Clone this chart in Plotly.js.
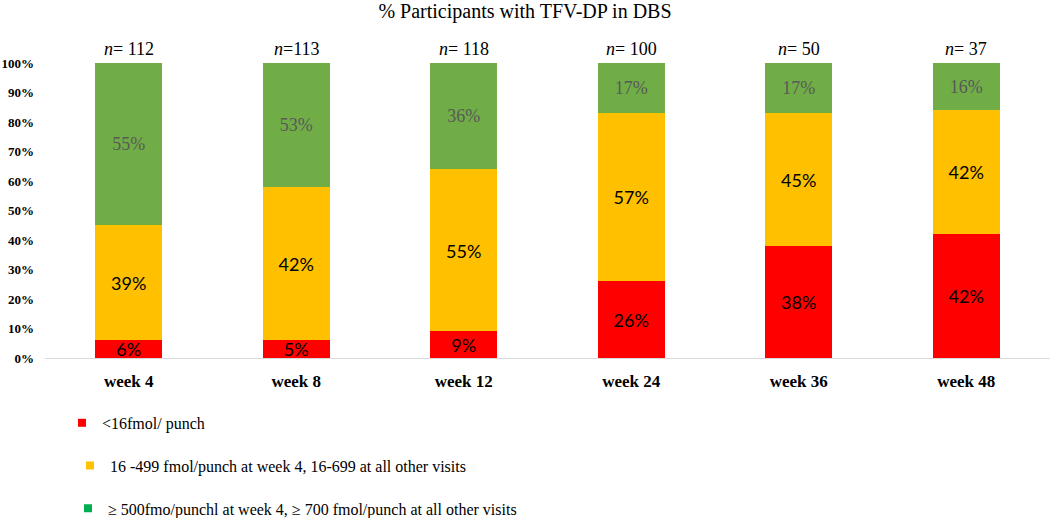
<!DOCTYPE html>
<html>
<head>
<meta charset="utf-8">
<script src="https://cdn.plot.ly/plotly-3.0.1.min.js"></script>
<style>html,body{margin:0;padding:0;background:#fff}#chart{width:1050px;height:518px}</style>
</head>
<body>
<div id="chart"></div>
<script>
// ---- data ----
const categories = ["week 4", "week 8", "week 12", "week 24", "week 36", "week 48"];
const nLabels = ["<i>n</i>= 112", "<i>n</i>=113", "<i>n</i>= 118", "<i>n</i>= 100", "<i>n</i>= 50", "<i>n</i>= 37"];
// bar segment heights as drawn (%)
const lowValues = [6, 6, 9, 26, 38, 42];
const midValues = [39, 52, 55, 57, 45, 42];
const highValues = [55, 42, 36, 17, 17, 16];
// data labels as printed
const lowLabels = ["6%", "5%", "9%", "26%", "38%", "42%"];
const midLabels = ["39%", "42%", "55%", "57%", "45%", "42%"];
const highLabels = ["55%", "53%", "36%", "17%", "17%", "16%"];
const seriesNames = [
  "&lt;16fmol/ punch",
  "16 -499 fmol/punch at week 4, 16-699 at all other visits",
  "≥ 500fmo/punchl at week 4, ≥ 700 fmol/punch at all other visits"
];
const yTicks = [0, 10, 20, 30, 40, 50, 60, 70, 80, 90, 100];
const yTickText = ["0%", "10%", "20%", "30%", "40%", "50%", "60%", "70%", "80%", "90%", "100%"];

const SERIF = "Liberation Serif, Times New Roman, serif";
const SANS = "Lato, Liberation Sans, sans-serif";

function barTrace(vals, labels, color, font) {
  return {
    type: "bar", x: categories, y: vals, text: labels,
    textposition: "inside", insidetextanchor: "middle",
    textangle: 0, constraintext: "none", cliponaxis: false,
    textfont: font, marker: {color: color}, showlegend: false,
    hoverinfo: "skip"
  };
}
function legendTrace(name, color, legendId) {
  return {
    type: "scatter", mode: "markers", x: [null], y: [null], name: name,
    marker: {symbol: "square", size: 8, color: color},
    legend: legendId, showlegend: true
  };
}

const data = [
  barTrace(lowValues, lowLabels, "#FF0000", {family: SANS, size: 20, color: "#000000"}),
  barTrace(midValues, midLabels, "#FFC000", {family: SANS, size: 20, color: "#000000"}),
  barTrace(highValues, highLabels, "#70AD47", {family: SERIF, size: 18, color: "#595959"}),
  legendTrace(seriesNames[0], "#FF0000", "legend"),
  legendTrace(seriesNames[1], "#FFC000", "legend2"),
  legendTrace(seriesNames[2], "#00B050", "legend3")
];

const annotations = categories.map((c, i) => ({
  x: c, y: 100, xref: "x", yref: "y", yanchor: "bottom", yshift: 2,
  text: nLabels[i], showarrow: false,
  font: {family: SERIF, size: 18, color: "#000000"}
}));

const legendFont = {family: SERIF, size: 16, color: "#000000"};
const layout = {
  width: 1050, height: 518,
  margin: {l: 45, r: 0, t: 63, b: 160, autoexpand: false},
  paper_bgcolor: "#ffffff", plot_bgcolor: "#ffffff",
  barmode: "stack", bargap: 0.6,
  title: {
    text: "% Participants with TFV-DP in DBS",
    x: 0.5, xref: "container", y: 0.978, yref: "container", yanchor: "middle",
    font: {family: SERIF, size: 20, color: "#000000"}
  },
  uniformtext: {mode: "show", minsize: 18},
  xaxis: {
    type: "category", showgrid: false, zeroline: false,
    showline: true, linecolor: "#D9D9D9", linewidth: 1,
    ticks: "", ticklabelstandoff: 8, automargin: false,
    tickfont: {family: SERIF, size: 17, color: "#000000", weight: "bold"}
  },
  yaxis: {
    range: [0, 100], tickmode: "array", tickvals: yTicks, ticktext: yTickText,
    showgrid: false, zeroline: false, showline: false, ticks: "", automargin: false,
    ticklabelstandoff: 10,
    tickfont: {family: SERIF, size: 13, color: "#000000", weight: "bold"}
  },
  legend: {x: 0.0169, xanchor: "left", y: -0.22, yanchor: "middle", font: legendFont, bgcolor: "rgba(0,0,0,0)"},
  legend2: {x: 0.0249, xanchor: "left", y: -0.365, yanchor: "middle", font: legendFont, bgcolor: "rgba(0,0,0,0)"},
  legend3: {x: 0.0229, xanchor: "left", y: -0.51, yanchor: "middle", font: legendFont, bgcolor: "rgba(0,0,0,0)"},
  annotations: annotations
};

Plotly.newPlot("chart", data, layout, {displayModeBar: false, staticPlot: true});
</script>
</body>
</html>
